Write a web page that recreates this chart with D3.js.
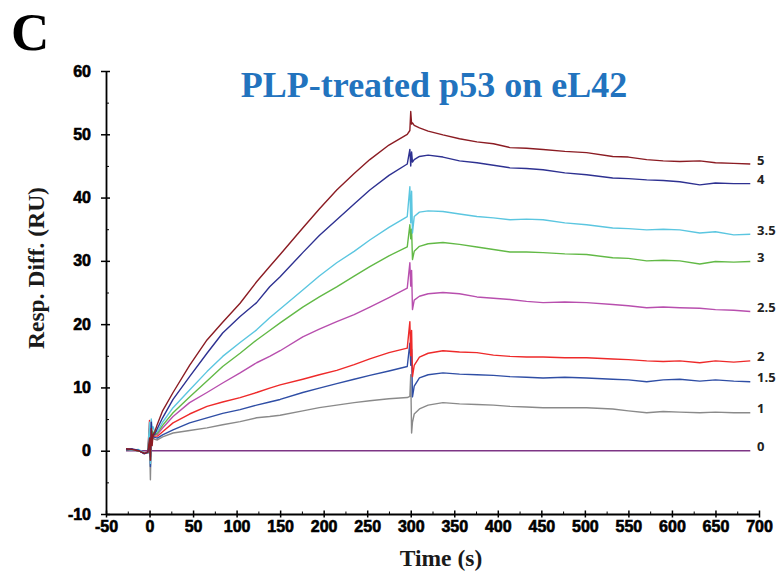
<!DOCTYPE html>
<html>
<head>
<meta charset="utf-8">
<script src="https://cdn.jsdelivr.net/npm/d3@7"></script>
<style>
  body { margin: 0; background: #fff; }
  .tick_label { font-family: "Liberation Sans", Arial, sans-serif; font-weight: 700; font-size: 16px; fill: #000; stroke: #000; stroke-width: 0.6px; }
  .axis_title { font-family: "Liberation Serif", "Times New Roman", serif; font-weight: 700; font-size: 23.5px; fill: #1a1a1a; }
  .conc { font-family: "Open Sans", sans-serif; font-weight: 700; font-size: 13px; fill: #222; }
</style>
</head>
<body>
<svg id="graph" width="779" height="575"></svg>
<script>
// time points (s) shared by every sensorgram
const times = [-27, -20, -13, -6, -2, 0, 1, 2, 3, 4, 6, 9, 15, 27, 46, 66, 84, 104, 123, 138, 150,
  176, 195, 215, 235, 253, 275, 296, 299, 300, 301, 302, 304, 310, 320, 337, 356, 376, 395, 414, 433, 452,
  477, 502, 532, 550, 571, 590, 609, 632, 650, 671, 690];

const resp_5 = [0.3, 0.2, 0.0, -0.4, -0.3, 2.0, -1.5, 3.5, 0.8, 2.5, 3.0, 4.2,
  6.3, 9.2, 13.5, 17.5, 20.3, 23.3, 26.7, 29.1, 31.0, 35.2, 38.2, 41.2, 43.8, 46.0, 48.3, 50.0,
  50.6, 53.6, 51.6, 51.8, 51.4, 51.0, 50.5, 49.9, 49.3, 48.8, 48.5, 47.9, 47.8, 47.6,
  47.3, 47.1, 46.5, 46.4, 46.0, 45.8, 45.7, 45.8, 45.5, 45.4, 45.3];
const resp_4 = [0.2, 0.3, 0.1, -0.5, -0.2, 1.0, -1.0, 4.5, 1.5, 2.5, 2.6, 3.5,
  5.2, 8.1, 11.7, 15.4, 18.6, 21.2, 23.4, 25.9, 27.5, 31.3, 34.0, 36.5, 39.0, 41.2, 43.5, 45.3,
  47.6, 45.0, 47.2, 45.6, 46.0, 46.5, 46.7, 46.4, 45.8, 45.5, 45.1, 44.7, 44.6, 44.4,
  43.9, 43.6, 43.1, 43.0, 42.8, 42.7, 42.5, 42.0, 42.3, 42.2, 42.2];
const resp_35 = [0.3, 0.1, 0.2, -0.3, -0.4, 4.5, -2.0, 5.0, 3.5, 3.8, 3.0, 3.0,
  4.5, 6.8, 9.6, 12.5, 14.9, 17.1, 19.1, 21.0, 22.4, 25.4, 27.6, 29.7, 31.5, 33.3, 35.3, 37.0,
  41.7, 36.0, 41.0, 34.4, 37.0, 37.7, 37.9, 37.8, 37.4, 37.0, 36.8, 36.5, 36.6, 36.5,
  36.0, 35.7, 35.2, 35.1, 34.9, 35.0, 34.9, 34.4, 34.6, 34.1, 34.2];
const resp_3 = [0.2, 0.2, 0.0, -0.3, -0.3, 3.0, -1.5, 4.0, 2.5, 3.0, 2.5, 2.8,
  4.0, 6.0, 8.5, 11.0, 13.3, 15.4, 17.5, 19.0, 20.2, 22.7, 24.3, 25.9, 27.6, 29.1, 30.8, 32.2,
  35.7, 33.5, 35.0, 30.2, 31.5, 32.3, 32.7, 32.9, 32.6, 32.2, 31.8, 31.4, 31.4, 31.3,
  31.1, 31.0, 30.5, 30.4, 30.0, 30.1, 30.0, 29.5, 29.9, 29.8, 29.9];
const resp_25 = [0.3, 0.1, 0.1, -0.4, -0.2, 2.5, -1.0, 3.5, 2.5, 2.8, 2.5, 2.6,
  3.6, 5.4, 7.6, 9.2, 10.7, 12.3, 13.9, 14.9, 15.8, 18.0, 19.2, 20.4, 21.5, 22.7, 24.2, 25.7,
  29.7, 26.0, 28.5, 22.3, 23.8, 24.4, 24.8, 25.0, 24.8, 24.3, 24.1, 23.9, 23.6, 23.4,
  23.5, 23.4, 23.1, 22.9, 22.6, 22.7, 22.6, 22.5, 22.3, 22.2, 22.0];
const resp_2 = [0.3, 0.2, 0.1, -0.3, -0.2, 4.8, -1.5, 3.5, 2.0, 2.5, 2.3, 2.3,
  3.0, 4.4, 5.8, 7.0, 7.7, 8.4, 9.2, 9.9, 10.4, 11.3, 12.0, 12.7, 13.6, 14.5, 15.5, 16.2,
  20.4, 15.0, 19.0, 11.7, 13.5, 14.8, 15.4, 15.8, 15.6, 15.5, 15.1, 14.9, 14.8, 14.8,
  14.7, 14.7, 14.5, 14.4, 14.2, 14.1, 14.2, 13.9, 14.2, 14.0, 14.2];
const resp_15 = [0.2, 0.2, 0.0, -0.4, -0.3, 3.5, -2.5, 3.0, 2.0, 2.3, 2.1, 2.0,
  2.5, 3.3, 4.4, 5.2, 5.9, 6.5, 7.2, 7.7, 8.1, 9.2, 9.9, 10.6, 11.3, 11.9, 12.6, 13.3,
  17.0, 13.5, 16.0, 8.5, 10.2, 11.5, 12.0, 12.3, 12.1, 12.0, 11.9, 11.7, 11.6, 11.5,
  11.6, 11.5, 11.3, 11.2, 10.9, 11.2, 11.3, 11.0, 11.2, 11.0, 10.9];
const resp_1 = [0.2, 0.1, 0.0, -0.3, -0.4, 1.5, -4.6, 2.5, 1.8, 2.0, 1.8, 1.7,
  2.2, 2.8, 3.2, 3.6, 4.1, 4.6, 5.2, 5.4, 5.6, 6.3, 6.8, 7.2, 7.6, 7.9, 8.2, 8.4,
  8.6, 12.0, 2.8, 4.5, 5.8, 6.6, 7.2, 7.6, 7.4, 7.3, 7.2, 7.0, 6.9, 6.8,
  6.8, 6.8, 6.6, 6.3, 6.0, 6.2, 6.1, 6.0, 6.1, 6.0, 6.0];
// blank reference channel
const zero_times = [-27, 690];
const resp_0 = [0, 0];

const conc_labels = ["0", "1", "1.5", "2", "2.5", "3", "3.5", "4", "5"];
const colors = ["#7d3585", "#8a8a8a", "#2f4ea5", "#ee2a2a", "#b84fae", "#62b946", "#5bc6e0", "#2e3191", "#8b1c23"];
const y_ticks = [-10, 0, 10, 20, 30, 40, 50, 60];
const x_ticks = [-50, 0, 50, 100, 150, 200, 250, 300, 350, 400, 450, 500, 550, 600, 650, 700];

const series = [
  { t: zero_times, v: resp_0 },
  { t: times, v: resp_1 },
  { t: times, v: resp_15 },
  { t: times, v: resp_2 },
  { t: times, v: resp_25 },
  { t: times, v: resp_3 },
  { t: times, v: resp_35 },
  { t: times, v: resp_4 },
  { t: times, v: resp_5 },
];

const svg = d3.select("#graph");
const x = d3.scaleLinear().domain([-50, 700]).range([106, 759]);
const y = d3.scaleLinear().domain([-10, 60]).range([514, 71]);
const plain = (d) => String(d);

// curves
const line = d3.line().x((d) => x(d[0])).y((d) => y(d[1]));
series.forEach((s, i) => {
  const pts = s.t.map((t, k) => [t, s.v[k]]);
  svg.append("path")
    .datum(pts)
    .attr("fill", "none")
    .attr("stroke", colors[i])
    .attr("stroke-width", 1.4)
    .attr("stroke-linejoin", "round")
    .attr("d", line);
  svg.append("text")
    .attr("class", "conc")
    .attr("x", 757)
    .attr("y", y(s.v[s.v.length - 1]) - 3)
    .attr("dominant-baseline", "middle")
    .text(conc_labels[i]);
});

// y axis, major ticks cross the line, minor ticks inside
const y_axis = svg.append("g")
  .attr("transform", "translate(106,0)")
  .call(d3.axisLeft(y).tickValues(y_ticks).tickFormat(plain).tickSize(5).tickSizeOuter(0).tickPadding(10));
y_axis.selectAll(".tick line").attr("x1", 4).attr("stroke-width", 1.5);
y_axis.selectAll(".tick text").attr("class", "tick_label");
y_axis.select(".domain").attr("stroke-width", 1.8);
svg.append("g")
  .attr("transform", "translate(106,0)")
  .call(d3.axisRight(y).tickValues(d3.range(-5, 60, 10)).tickSize(3).tickFormat("").tickSizeOuter(0))
  .call((g) => g.select(".domain").remove());

// x axis
const x_axis = svg.append("g")
  .attr("transform", "translate(0,514)")
  .call(d3.axisBottom(x).tickValues(x_ticks).tickFormat(plain).tickSize(3.5).tickSizeOuter(0).tickPadding(3));
x_axis.selectAll(".tick line").attr("y1", -3.5).attr("stroke-width", 1.5);
x_axis.selectAll(".tick text").attr("class", "tick_label");
x_axis.select(".domain").attr("stroke-width", 1.8);
svg.append("g")
  .attr("transform", "translate(0,514)")
  .call(d3.axisTop(x).tickValues(d3.range(-25, 700, 50)).tickSize(2.5).tickFormat("").tickSizeOuter(0))
  .call((g) => g.select(".domain").remove());

// titles
svg.append("text")
  .attr("x", 11).attr("y", 50)
  .style("font-family", "'Liberation Serif', serif")
  .style("font-weight", 700).style("font-size", "53px")
  .text("C");

svg.append("text")
  .attr("x", 434).attr("y", 97)
  .attr("text-anchor", "middle")
  .style("font-family", "'Liberation Serif', serif")
  .style("font-weight", 700).style("font-size", "36px")
  .style("fill", "#2273be")
  .text("PLP-treated p53 on eL42");

svg.append("text")
  .attr("class", "axis_title")
  .attr("x", 441).attr("y", 566)
  .attr("text-anchor", "middle")
  .text("Time (s)");

svg.append("text")
  .attr("class", "axis_title")
  .attr("transform", "translate(44,268) rotate(-90)")
  .attr("text-anchor", "middle")
  .text("Resp. Diff. (RU)");
</script>
</body>
</html>
